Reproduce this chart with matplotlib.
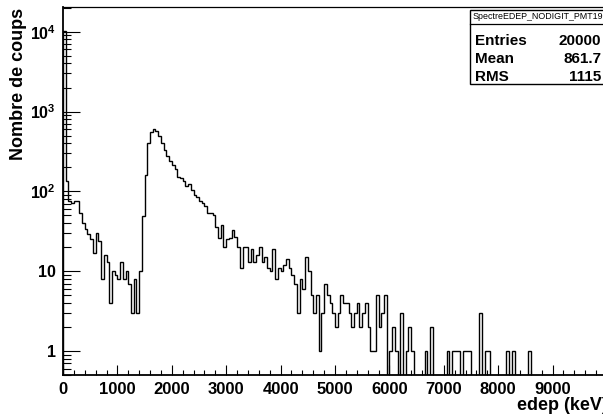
import numpy as np
import matplotlib
matplotlib.use('Agg')
import matplotlib.pyplot as plt
from matplotlib.ticker import MultipleLocator, LogLocator, FuncFormatter, NullFormatter
from matplotlib.patches import Rectangle

# histogram: 200 bins of 50 keV between 0 and 10000 keV
bin_edges = np.linspace(0, 10000, 201)
counts = [
    10200, 135, 75, 72, 76, 75, 54, 40, 34, 29,
    25, 17, 30, 24, 8, 16, 13, 4, 10, 9,
    8, 13, 8, 10, 7, 3, 8, 3, 10, 49,
    161, 400, 560, 600, 570, 490, 400, 330, 275, 237,
    215, 190, 150, 145, 133, 115, 125, 105, 91, 85,
    75, 72, 65, 54, 54, 50, 36, 26, 38, 20,
    25, 26, 33, 27, 20, 11, 20, 20, 13, 19,
    13, 16, 20, 13, 15, 11, 10, 19, 8, 11,
    10, 12, 14, 11, 9, 7, 3, 8, 6, 15,
    10, 5, 3, 5, 1, 3, 7, 5, 4, 3,
    2, 3, 5, 4, 4, 3, 2, 3, 4, 2,
    3, 4, 2, 1, 1, 5, 2, 3, 5, 0,
    1, 2, 1, 0, 3, 0, 1, 2, 1, 0,
    0, 0, 0, 1, 0, 2, 0, 0, 0, 0,
    0, 1, 0, 1, 1, 1, 0, 1, 1, 1,
    0, 0, 0, 3, 0, 1, 1, 0, 0, 0,
    0, 0, 0, 1, 0, 1, 0, 0, 0, 0,
    0, 1, 0, 0, 0, 0, 0, 0, 0, 0,
    0, 0, 0, 0, 0, 0, 0, 0, 0, 0,
    0, 0, 0, 0, 0, 0, 0, 0, 0, 0,
]

hist_name = 'SpectreEDEP_NODIGIT_PMT19'
stat_names = ['Entries', 'Mean', 'RMS']
stat_values = ['20000', '861.7', '1115']
x_title = 'edep (keV)'
y_title = 'Nombre de coups'

plt.rcParams['font.family'] = ['Liberation Sans', 'DejaVu Sans']
plt.rcParams['font.weight'] = 'bold'
plt.rcParams['mathtext.fontset'] = 'custom'
plt.rcParams['mathtext.rm'] = 'Liberation Sans:bold'
plt.rcParams['mathtext.it'] = 'Liberation Sans:bold'
plt.rcParams['mathtext.bf'] = 'Liberation Sans:bold'

W, H = 603, 418
fig = plt.figure(figsize=(W / 100, H / 100), dpi=100)
ax = fig.add_axes([63 / W, 1 - 375 / H, 544 / W, 368 / H])

y = np.asarray(counts, dtype=float)
floor = 1e-3  # empty bins drop below the frame, like ROOT on log scale
ax.stairs(np.where(y > 0, y, floor), bin_edges, baseline=floor,
          color='black', lw=1.0)

ax.set_yscale('log')
ax.set_xlim(0, 10000)
ax.set_ylim(0.5, 2.04e4)

ax.xaxis.set_major_locator(MultipleLocator(1000))
ax.xaxis.set_minor_locator(MultipleLocator(200))
ax.xaxis.set_major_formatter(FuncFormatter(lambda v, p: '' if v >= 10000 else '%d' % v))
ax.yaxis.set_major_locator(LogLocator(base=10, numticks=10))
ax.yaxis.set_minor_locator(LogLocator(base=10, subs=np.arange(2, 10), numticks=10))
ax.yaxis.set_minor_formatter(NullFormatter())


def ylab(v, p):
    n = int(round(np.log10(v)))
    if n == 0:
        return '1'
    if n == 1:
        return '10'
    return r'$10^{%d}$' % n


ax.yaxis.set_major_formatter(FuncFormatter(ylab))

ax.tick_params(axis='x', which='major', direction='in', length=7, width=0.8,
               labelsize=12, pad=5, top=False)
ax.tick_params(axis='x', which='minor', direction='in', length=3.5, width=0.8, top=False)
ax.tick_params(axis='y', which='major', direction='in', length=12, width=0.8,
               labelsize=11.5, pad=5, right=False)
ax.tick_params(axis='y', which='minor', direction='in', length=6, width=0.8, right=False)
for s in ['left', 'bottom']:
    ax.spines[s].set_linewidth(1.3)
for s in ['top', 'right']:
    ax.spines[s].set_linewidth(0.9)

fig.text(19 / W, 1 - 8 / H, y_title, rotation=90, ha='center', va='top', fontsize=13)
fig.text(608 / W, 1 - 410 / H, x_title, ha='right', va='baseline', fontsize=13)

# stats box
bx0, bx1, by0, by1 = 470, 612, 10, 84
fig.patches.append(Rectangle((bx0 / W, 1 - by1 / H), (bx1 - bx0) / W, (by1 - by0) / H,
                             transform=fig.transFigure, facecolor='white',
                             edgecolor='black', lw=1.0, zorder=5))
fig.lines.append(plt.Line2D([bx0 / W, bx1 / W], [1 - 23.5 / H] * 2, transform=fig.transFigure,
                            color='black', lw=0.9, zorder=6))
fig.text(473 / W, 1 - 16.5 / H, hist_name, ha='left', va='center', fontsize=6.4,
         weight='normal', zorder=7)
for i, (name, val) in enumerate(zip(stat_names, stat_values)):
    yb = 1 - (45 + 18 * i) / H
    fig.text(475 / W, yb, name, ha='left', va='baseline', fontsize=11, zorder=7)
    fig.text(601 / W, yb, val, ha='right', va='baseline', fontsize=11, zorder=7)

fig.savefig('out.png', dpi=100)
